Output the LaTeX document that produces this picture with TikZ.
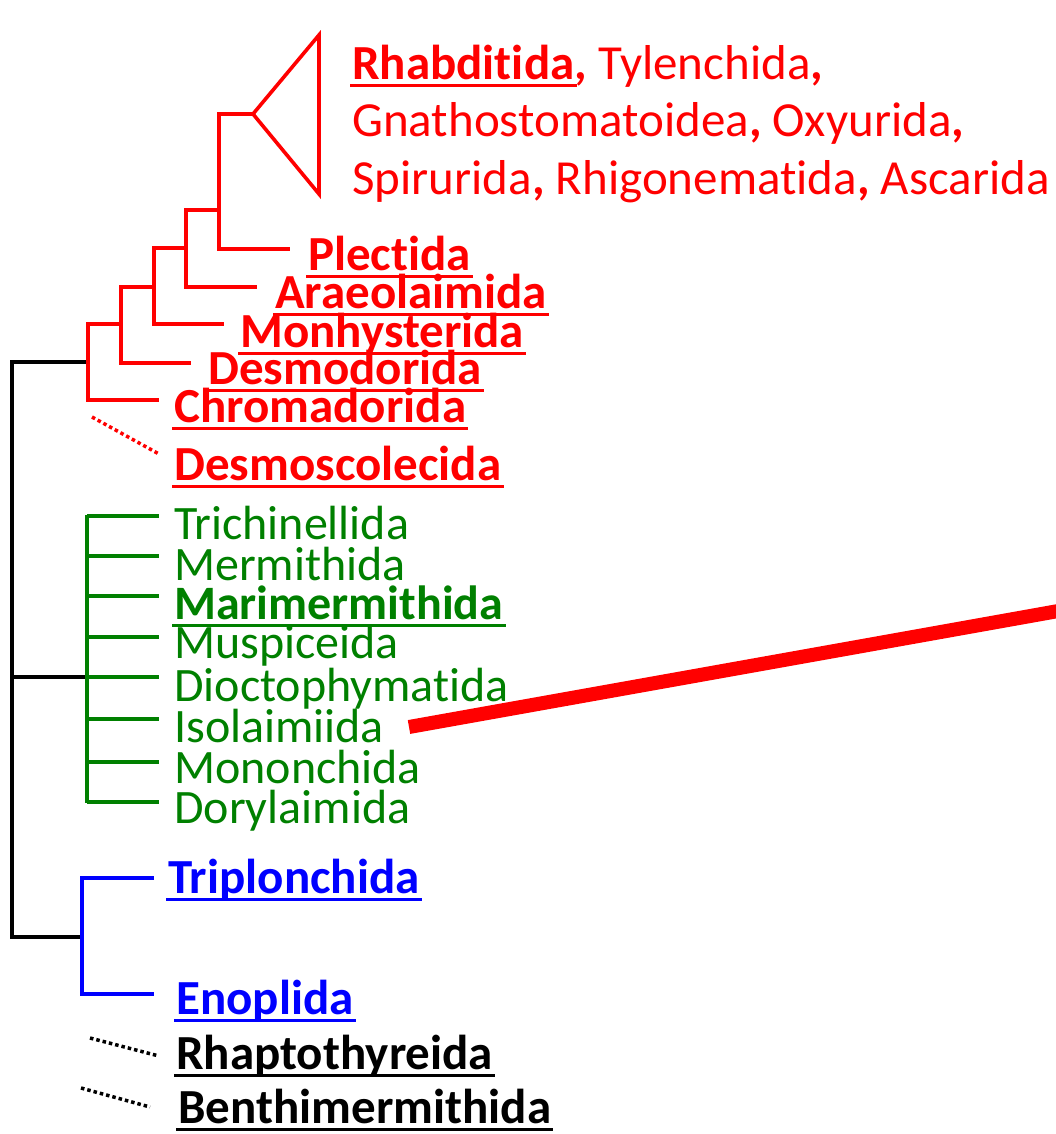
\documentclass[tikz,border=0pt]{standalone}
\usepackage{fontspec}
\setmainfont{Carlito}[Ligatures={NoCommon}]
\definecolor{tred}{RGB}{255,0,0}
\definecolor{tgreen}{RGB}{0,128,0}
\definecolor{tblue}{RGB}{0,0,255}
\newcommand\ulabel[2]{\draw[line width=3pt,#2] ([shift={(-2pt,-6pt)}]#1.base west) -- ([shift={(2pt,-6pt)}]#1.base east);}
\begin{document}
\begin{tikzpicture}[x=1pt,y=-1pt,
  br/.style={line width=3.6pt},
  blk/.style={line width=4pt, black},
  lab/.style={anchor=base west, inner sep=0pt, font=\fontsize{49}{58}\selectfont},
  blab/.style={anchor=base west, inner sep=0pt, font=\fontsize{49}{58}\selectfont\bfseries},
  glab/.style={anchor=base west, inner sep=0pt, font=\fontsize{48}{56}\selectfont, text=tgreen},
  dotline/.style={line width=3.5pt, dash pattern=on 3.5pt off 3pt},
]
\useasboundingbox (0,0) rectangle (1055,1134);

% ---------- black backbone ----------
\coordinate (rootT) at (12,362);
\coordinate (rootM) at (12,677);
\coordinate (rootB) at (12,937);
\coordinate (nR) at (88,362);
\coordinate (nG) at (87,677);
\coordinate (nB) at (82,937);
\draw[blk] (nR) -- (rootT) -- (rootB) -- (nB);
\draw[blk] (rootM) -- (nG);

% ---------- red clade ----------
\coordinate (A1) at (88,324); \coordinate (A2) at (88,400);
\coordinate (B1) at (121,287); \coordinate (B2) at (121,363); \coordinate (Bm) at (121,324);
\coordinate (C1) at (154,248); \coordinate (C2) at (154,324); \coordinate (Cm) at (154,287);
\coordinate (D1) at (186,210); \coordinate (D2) at (186,287); \coordinate (Dm) at (186,248);
\coordinate (E1) at (219,114); \coordinate (E2) at (219,249); \coordinate (Em) at (219,210);
\coordinate (T0) at (253,114); \coordinate (T1) at (319,35); \coordinate (T2) at (319,194);
\coordinate (eChr) at (159,400);
\coordinate (eDes) at (191,363);
\coordinate (eMon) at (224,324);
\coordinate (eAra) at (257,287);
\coordinate (ePle) at (290,249);

\draw[br,tred] (Bm) -- (A1) -- (A2) -- (eChr);
\draw[br,tred] (Cm) -- (B1) -- (B2) -- (eDes);
\draw[br,tred] (Dm) -- (C1) -- (C2) -- (eMon);
\draw[br,tred] (Em) -- (D1) -- (D2) -- (eAra);
\draw[br,tred] (T0) -- (E1) -- (E2) -- (ePle);
\draw[br,tred] (T0) -- (T1) -- (T2) -- cycle;

\node[blab,text=tred] (Rha) at (352,80) {Rhabditida};
\node[lab,text=tred] (Rha2) at (Rha.base east) {\textbf{,} Tylenchida\textbf{,}};
\node[lab,text=tred] (Gna) at (352,137) {Gnathostomatoidea\textbf{,} Oxyurida\textbf{,}};
\node[lab,text=tred] (Spi) at (352,194) {Spirurida\textbf{,} Rhigonematida\textbf{,} Ascarida};
\ulabel{Rha}{tred}

\node[blab,text=tred] (Ple) at (308,270) {Plectida};
\node[blab,text=tred] (Ara) at (275,308) {Araeolaimida};
\node[blab,text=tred] (Mon) at (240,347) {Monhysterida};
\node[blab,text=tred] (Des) at (208,384) {Desmodorida};
\node[blab,text=tred] (Chr) at (174,422) {Chromadorida};
\node[blab,text=tred] (Dsc) at (174,480) {Desmoscolecida};
\foreach \n in {Ple,Ara,Mon,Des,Chr,Dsc} {\ulabel{\n}{tred}}

\coordinate (dR0) at (92,417);
\coordinate (dR1) at (159,454);
\draw[dotline,tred] (dR0) -- (dR1);

% ---------- green clade ----------
\coordinate (G1) at (87,515);
\coordinate (G2) at (87,803);
\draw[br,tgreen] (G1) -- (G2);
\foreach \y/\n in {516/g1,556/g2,596/g3,637/g4,677/g5,719/g6,762/g7,802/g8} {
  \coordinate (s\n) at (87,\y);
  \coordinate (t\n) at (159,\y);
  \draw[br,tgreen] (s\n) -- (t\n);
}
\node[glab] (Tri) at (174,539) {Trichinellida};
\node[glab] (Mer) at (174,580) {Mermithida};
\node[glab,font=\fontsize{48}{56}\selectfont\bfseries] (Mar) at (174,619) {Marimermithida};
\node[glab] (Mus) at (174,658) {Muspiceida};
\node[glab] (Dio) at (174,701) {Dioctophymatida};
\node[glab] (Iso) at (174,742) {Isolaimiida};
\node[glab] (Mnc) at (174,783) {Mononchida};
\node[glab] (Dor) at (174,823) {Dorylaimida};
\ulabel{Mar}{tgreen}

% ---------- red pointer ----------
\coordinate (P0) at (409,727);
\coordinate (P1) at (1075,608);
\draw[tred, line width=14pt, line cap=butt] (P0) -- (P1);

% ---------- blue clade ----------
\coordinate (Bl1) at (82,878);
\coordinate (Bl2) at (82,994);
\coordinate (eTrp) at (154,878);
\coordinate (eEno) at (154,994);
\draw[br,tblue] (eTrp) -- (Bl1) -- (Bl2) -- (eEno);
\node[blab,text=tblue] (Trp) at (168,893) {Triplonchida};
\node[blab,text=tblue] (Eno) at (176,1014) {Enoplida};
\ulabel{Trp}{tblue}
\ulabel{Eno}{tblue}

% ---------- black incertae ----------
\node[blab,text=black] (Rhp) at (176,1069) {Rhaptothyreida};
\node[blab,text=black] (Ben) at (178,1123) {Benthimermithida};
\ulabel{Rhp}{black}
\ulabel{Ben}{black}
\coordinate (dK0) at (90,1038);
\coordinate (dK1) at (159,1056);
\coordinate (dK2) at (81,1088);
\coordinate (dK3) at (150,1107);
\draw[dotline,black] (dK0) -- (dK1);
\draw[dotline,black] (dK2) -- (dK3);
\end{tikzpicture}
\end{document}
